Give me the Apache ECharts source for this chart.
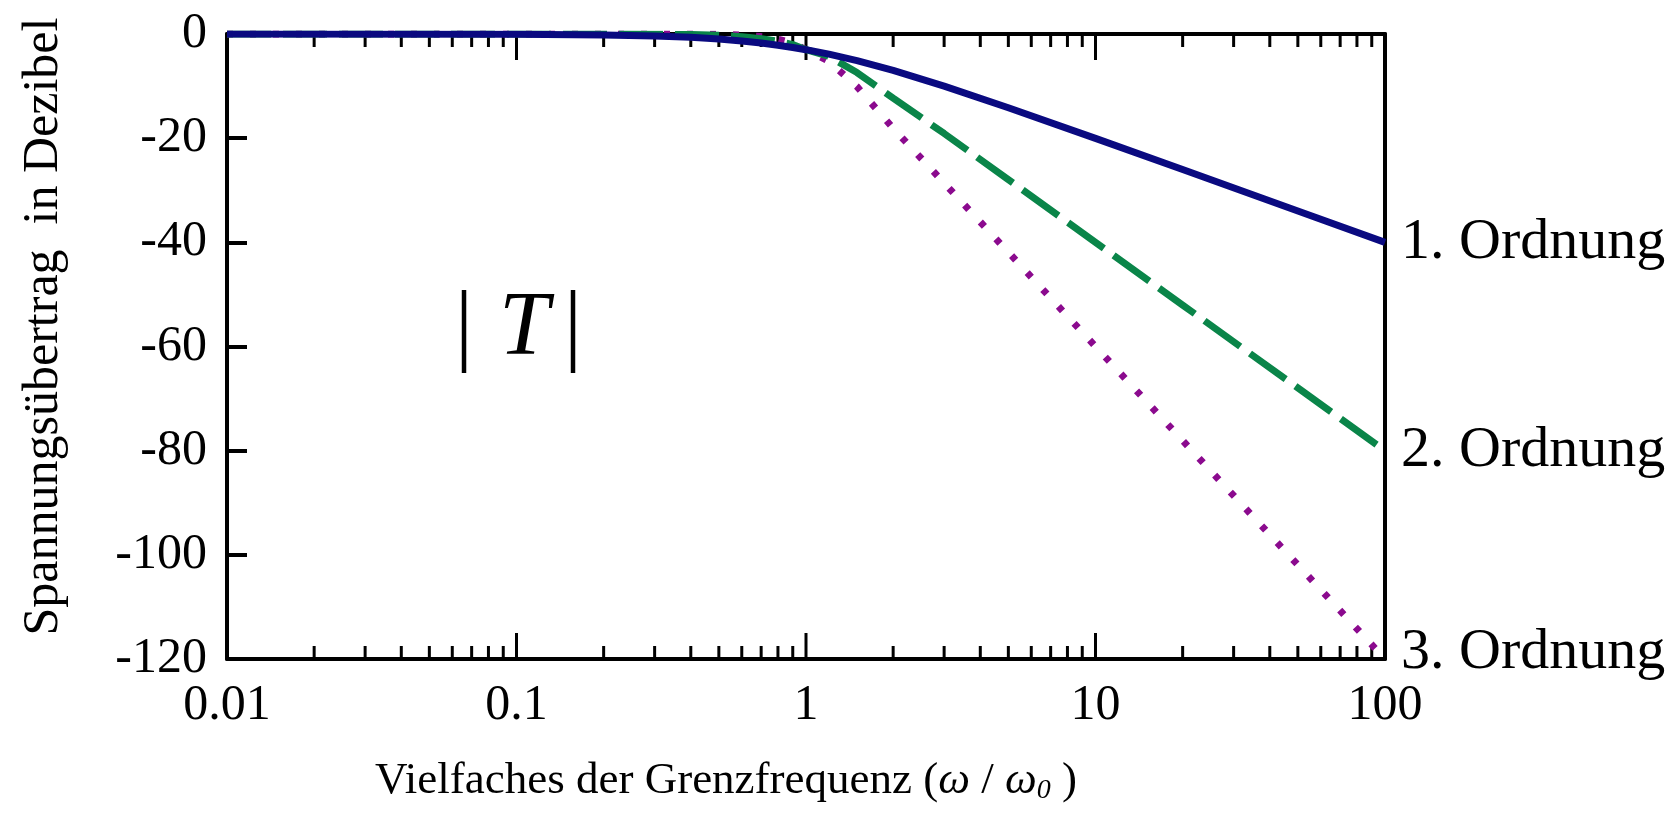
<!DOCTYPE html>
<html>
<head>
<meta charset="utf-8">
<script src="https://cdn.jsdelivr.net/npm/echarts@6/dist/echarts.min.js"></script>
<style>
  html, body { margin: 0; padding: 0; background: #fff; }
  #chart { width: 1677px; height: 823px; }
</style>
</head>
<body>
<div id="chart"></div>
<script>
// frequency ratio w/w0 and |T| in dB
const freq   = [0.01, 0.1, 0.2, 0.3, 0.4, 0.5, 0.6, 0.7, 0.8, 0.9, 1, 1.2, 1.5, 2, 3, 5, 10, 20, 50, 100];
const order1 = [0, -0.04, -0.17, -0.37, -0.64, -0.97, -1.34, -1.74, -2.15, -2.58, -3.01, -3.87, -5.12, -6.99, -10, -14.15, -20.04, -26.03, -33.98, -40];
const order2 = [0, 0, -0.01, -0.04, -0.11, -0.26, -0.53, -0.9, -1.39, -2.03, -3.01, -4.3, -7.4, -12.3, -19.1, -27.97, -40, -52.04, -67.96, -80];
const order3 = [0, 0, 0, 0, -0.02, -0.07, -0.2, -0.5, -0.99, -1.72, -3.01, -5.26, -10.1, -18.1, -28.6, -41.9, -60, -78.06, -101.94, -120];
const seriesNames = ['1. Ordnung', '2. Ordnung', '3. Ordnung'];
const majorTicks = [0.1, 1, 10];
const minorTicks = [0.02, 0.03, 0.04, 0.05, 0.06, 0.07, 0.08, 0.09,
                    0.2, 0.3, 0.4, 0.5, 0.6, 0.7, 0.8, 0.9,
                    2, 3, 4, 5, 6, 7, 8, 9,
                    20, 30, 40, 50, 60, 70, 80, 90];

const serif = "'Liberation Serif', 'Times New Roman', serif";
const pairs = (ys) => freq.map((f, i) => [f, ys[i]]);

const chart = echarts.init(document.getElementById('chart'));

const endLabel = (dy) => ({
  show: true,
  formatter: '{a}',
  distance: 16,
  offset: [0, dy],
  color: '#000',
  fontFamily: serif,
  fontSize: 58
});

// inward ticks on the bottom and top edge of the log axis, drawn as thin rect symbols
const tickMarks = (values, y, len, dir) => ({
  type: 'scatter',
  silent: true,
  clip: false,
  z: 3,
  symbol: 'rect',
  symbolSize: [3, len],
  symbolOffset: [0, dir * len / 2],
  itemStyle: { color: '#000', opacity: 1 },
  data: values.map((x) => [x, y])
});

const boxLine = { show: true, onZero: false, lineStyle: { color: '#000', width: 4 } };

chart.setOption({
  animation: false,
  backgroundColor: '#fff',
  textStyle: { fontFamily: serif },
  grid: { left: 227, right: 292, top: 34, bottom: 164, containLabel: false },
  xAxis: [
    {
      type: 'log', logBase: 10, min: 0.01, max: 100,
      position: 'bottom',
      name: '{t|Vielfaches der Grenzfrequenz (}{w|ω}{t| / }{w|ω}{s|0}{t| )}',
      nameLocation: 'middle',
      nameGap: 98,
      nameTextStyle: {
        padding: [0, 160, 0, 0],
        rich: {
          t: { fontFamily: serif, fontSize: 45, color: '#000' },
          w: { fontFamily: serif, fontSize: 45, fontStyle: 'italic', color: '#000' },
          s: { fontFamily: serif, fontSize: 28, fontStyle: 'italic', color: '#000', verticalAlign: 'bottom', padding: [20, 0, 0, 0] }
        }
      },
      axisLine: boxLine,
      axisTick: { show: false },
      axisLabel: {
        margin: 22, color: '#000', fontFamily: serif, fontSize: 50,
        formatter: (v) => String(+v.toPrecision(3))
      },
      splitLine: { show: false }
    },
    {
      type: 'log', logBase: 10, min: 0.01, max: 100,
      position: 'top',
      axisLine: boxLine,
      axisTick: { show: false },
      axisLabel: { show: false },
      splitLine: { show: false }
    }
  ],
  yAxis: [
    {
      type: 'value', min: -120, max: 0, interval: 20,
      position: 'left',
      name: 'Spannungsübertrag  in Dezibel',
      nameLocation: 'middle',
      nameRotate: 90,
      nameGap: 158,
      nameTextStyle: { color: '#000', fontFamily: serif, fontSize: 50, padding: [0, 0, 0, 40] },
      axisLine: boxLine,
      axisTick: { show: true, inside: true, length: 20, lineStyle: { color: '#000', width: 4 } },
      axisLabel: { margin: 20, color: '#000', fontFamily: serif, fontSize: 50 },
      splitLine: { show: false }
    },
    {
      type: 'value', min: -120, max: 0, interval: 20,
      position: 'right',
      axisLine: boxLine,
      axisTick: { show: false },
      axisLabel: { show: false },
      splitLine: { show: false }
    }
  ],
  graphic: [
    { type: 'text', left: 455, top: 285, style: { text: '|', font: '90px ' + serif, fill: '#000' } },
    { type: 'text', left: 499, top: 285, style: { text: 'T', font: 'italic 90px ' + serif, fill: '#000' } },
    { type: 'text', left: 564, top: 285, style: { text: '|', font: '90px ' + serif, fill: '#000' } }
  ],
  series: [
    tickMarks(minorTicks, -120, 13, -1),
    tickMarks(minorTicks, 0, 13, 1),
    tickMarks(majorTicks, -120, 26, -1),
    tickMarks(majorTicks, 0, 26, 1),
    {
      name: seriesNames[2],
      type: 'line',
      data: pairs(order3),
      showSymbol: false,
      z: 4,
      lineStyle: { color: '#8b0a8e', width: 7, type: [6, 17], cap: 'butt' },
      endLabel: endLabel(-6)
    },
    {
      name: seriesNames[1],
      type: 'line',
      data: pairs(order2),
      showSymbol: false,
      z: 5,
      lineStyle: { color: '#0a8549', width: 7, type: [44, 12], cap: 'butt' },
      endLabel: endLabel(0)
    },
    {
      name: seriesNames[0],
      type: 'line',
      data: pairs(order1),
      showSymbol: false,
      z: 6,
      lineStyle: { color: '#0a0a80', width: 7 },
      endLabel: endLabel(0)
    }
  ]
});
</script>
</body>
</html>
